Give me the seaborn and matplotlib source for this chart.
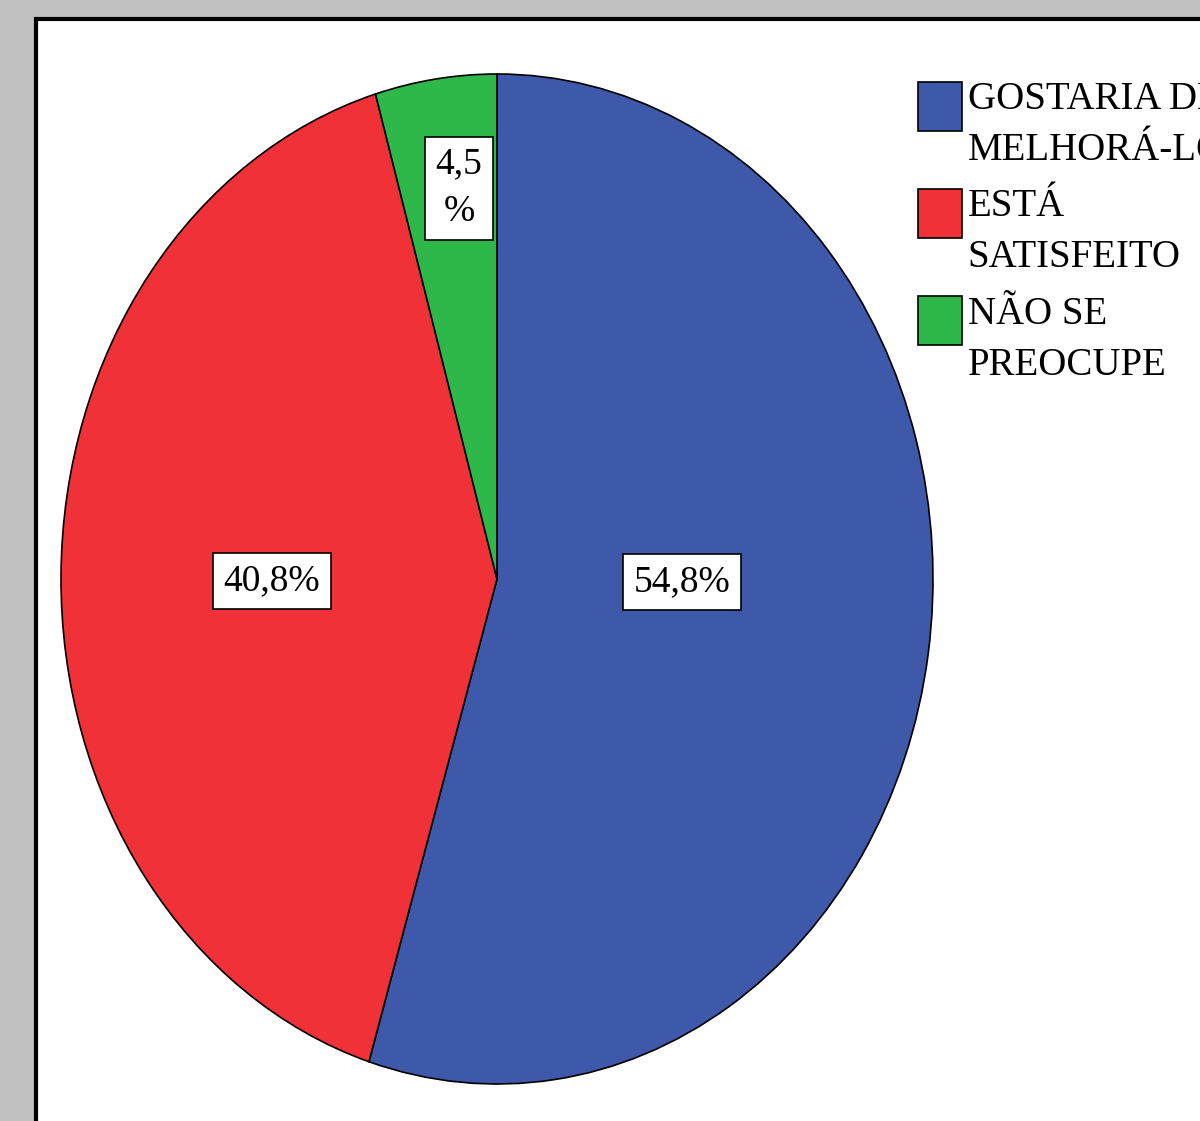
import matplotlib
matplotlib.use("Agg")
import matplotlib.pyplot as plt
from matplotlib.patches import Rectangle
from matplotlib.legend_handler import HandlerPatch
import seaborn as sns

# Response categories and their shares (%)
categories = ["GOSTARIA DE\nMELHORÁ-LO", "ESTÁ\nSATISFEITO", "NÃO SE\nPREOCUPE"]
shares = [54.8, 40.8, 4.5]
slice_labels = ["54,8%", "40,8%", "4,5\n%"]
colors = ["#3E58AA", "#F03238", "#2EB84A"]

sns.set_theme(style="white")
plt.rcParams["font.family"] = ["Liberation Serif", "DejaVu Serif"]
plt.rcParams["text.color"] = "black"

W, H = 1200, 1121
fig = plt.figure(figsize=(W / 100, H / 100), dpi=100, facecolor="#C0C0C0")

# White chart panel with heavy black border, running off the right and bottom
panel = Rectangle((36 / W, -0.05), 1.2, (H - 19) / H + 0.05,
                  transform=fig.transFigure, facecolor="white",
                  edgecolor="black", linewidth=3, zorder=-5)
fig.patches.append(panel)

# Pie is drawn as an ellipse: axes box matches the ellipse bounds
left, right, top, bottom = 61, 933, 74, 1084
ax = fig.add_axes([left / W, (H - bottom) / H, (right - left) / W, (bottom - top) / H])
ax.patch.set_visible(False)
wedges, _ = ax.pie(shares, colors=colors, startangle=90, counterclock=False,
                   radius=1.0, wedgeprops=dict(edgecolor="black", linewidth=1.2))
ax.set_aspect("auto")
ax.set_xlim(-1, 1)
ax.set_ylim(-1, 1)
ax.axis("off")

# Boxed value labels
label_pos = [(0.424, -0.006), (-0.516, -0.004), (-0.087, 0.774)]
for (x, y), txt in zip(label_pos, slice_labels):
    ax.text(x, y, txt, ha="center", va="center", fontsize=27,
            linespacing=1.5,
            bbox=dict(boxstyle="square,pad=0.28", facecolor="white",
                      edgecolor="black", linewidth=1.2))


# Legend swatches sit level with the first text line
def top_aligned_patch(legend, orig_handle, xdescent, ydescent, width, height, fontsize):
    return Rectangle((-xdescent, -ydescent + 14.5), width, height)


leg = fig.legend(wedges, categories, loc="upper left",
                 bbox_to_anchor=(918 / W, (H - 81) / H),
                 frameon=False, fontsize=28, handlelength=1.13,
                 handleheight=1.56, handletextpad=0.15, labelspacing=0.5,
                 borderaxespad=0, borderpad=0,
                 handler_map={matplotlib.patches.Wedge: HandlerPatch(patch_func=top_aligned_patch)})
for t in leg.get_texts():
    t.set_linespacing(1.5)

fig.savefig("out.png", dpi=100, facecolor=fig.get_facecolor())
